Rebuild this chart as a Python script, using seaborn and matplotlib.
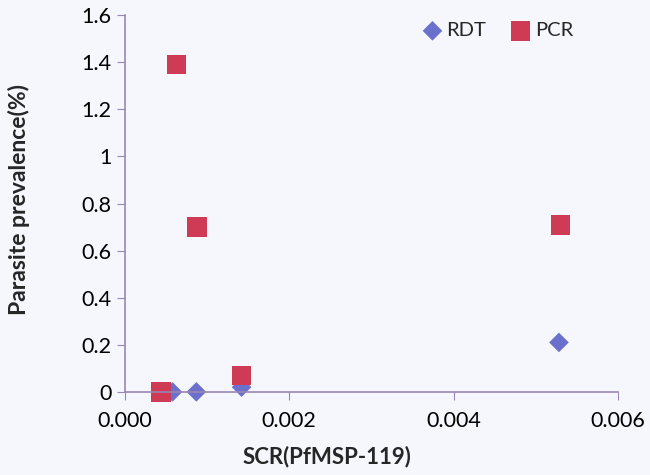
import matplotlib
matplotlib.use("Agg")
import matplotlib.pyplot as plt
import pandas as pd
import seaborn as sns

# data
rdt_scr = [0.00044, 0.00058, 0.00087, 0.00142, 0.00528]
rdt_prev = [0.0, 0.0, 0.0, 0.02, 0.21]
pcr_scr = [0.00044, 0.00063, 0.00088, 0.00142, 0.00530]
pcr_prev = [0.0, 1.39, 0.70, 0.07, 0.71]

rdt = pd.DataFrame({"SCR": rdt_scr, "prev": rdt_prev})
pcr = pd.DataFrame({"SCR": pcr_scr, "prev": pcr_prev})

sns.set_style("ticks")
plt.rcParams['font.family'] = ['Lato', 'DejaVu Sans']

bg = "#f5f7fc"
axcol = "#9a86b4"

fig, ax = plt.subplots(figsize=(6.5, 4.75), dpi=100)
fig.patch.set_facecolor(bg)
ax.set_facecolor(bg)
fig.subplots_adjust(left=0.192, right=0.951, bottom=0.175, top=0.968)

sns.scatterplot(data=rdt, x="SCR", y="prev", color="#6a70cc", marker="D",
                s=100, edgecolor="none", ax=ax, clip_on=False, label="RDT")
sns.scatterplot(data=pcr, x="SCR", y="prev", color="#cf3a55", marker="s",
                s=200, edgecolor="none", ax=ax, clip_on=False, label="PCR")

ax.set_xlim(0, 0.006)
ax.set_ylim(0, 1.6)
ax.set_xticks([0, 0.002, 0.004, 0.006])
ax.set_xticklabels(["0.000", "0.002", "0.004", "0.006"])
ax.set_yticks([0, 0.2, 0.4, 0.6, 0.8, 1.0, 1.2, 1.4, 1.6])
ax.set_yticklabels(["0", "0.2", "0.4", "0.6", "0.8", "1", "1.2", "1.4", "1.6"])
ax.tick_params(labelsize=15.5, colors=axcol, labelcolor="black", length=6, direction="out")
ax.tick_params(axis="x", pad=8)
ax.set_xlabel("SCR(PfMSP-119)", fontsize=16, fontweight="bold")
ax.set_ylabel("Parasite prevalence(%)", fontsize=16.5, fontweight="bold")
ax.xaxis.set_label_coords(0.41, -0.143)
ax.yaxis.set_label_coords(-0.193, 0.51)

sns.despine(ax=ax)
for sp in ["left", "bottom"]:
    ax.spines[sp].set_color(axcol)
    ax.spines[sp].set_linewidth(1.2)

leg = ax.legend(loc="upper right", bbox_to_anchor=(0.945, 1.03), ncol=2, frameon=False,
                fontsize=14.5, handlelength=0.8, handletextpad=0.3, columnspacing=1.3)

fig.savefig("out.png", dpi=100, facecolor=bg)
